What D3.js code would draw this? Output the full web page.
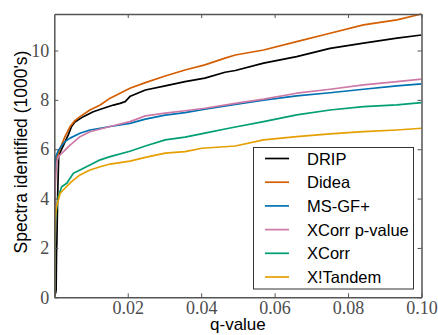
<!DOCTYPE html>
<html>
<head>
<meta charset="utf-8">
<script src="https://cdn.jsdelivr.net/npm/d3@7"></script>
<style>
  html, body { margin: 0; padding: 0; background: #fff; }
  svg { display: block; }
</style>
</head>
<body>
<svg id="chart" width="438" height="335"></svg>
<script>
// ---- data (q-value, spectra identified in 1000's) ----
const seriesNames = ["DRIP", "Didea", "MS-GF+", "XCorr p-value", "XCorr", "X!Tandem"];
const seriesColors = ["#000000", "#D55E00", "#0072B2", "#CC79A7", "#009E73", "#E69F00"];

const dripQ = [0, 0.0004, 0.0005, 0.0006, 0.0007, 0.0009, 0.0012, 0.0023, 0.0038, 0.0047, 0.0056, 0.0079, 0.0106, 0.0134, 0.0161, 0.0179, 0.0193, 0.0207, 0.0248, 0.0302, 0.0356, 0.041, 0.0465, 0.0493, 0.057, 0.066, 0.0751, 0.0842, 0.0933, 0.1];
const dripY = [0, 0.2, 0.3, 1.8, 2.2, 4.0, 5.75, 6.1, 6.58, 6.92, 7.1, 7.32, 7.52, 7.66, 7.79, 7.86, 7.93, 8.15, 8.40, 8.57, 8.74, 8.88, 9.12, 9.19, 9.49, 9.75, 10.09, 10.30, 10.5, 10.63];

const dideaQ = [0, 0.0003, 0.0008, 0.0016, 0.0029, 0.0043, 0.0056, 0.007, 0.0097, 0.0125, 0.0152, 0.0179, 0.0206, 0.0248, 0.0302, 0.0356, 0.041, 0.0465, 0.0493, 0.057, 0.066, 0.0751, 0.0842, 0.0933, 0.1];
const dideaY = [0, 5.2, 5.7, 6.04, 6.51, 6.92, 7.16, 7.32, 7.59, 7.79, 8.07, 8.27, 8.47, 8.70, 8.97, 9.21, 9.42, 9.69, 9.82, 10.02, 10.36, 10.7, 11.04, 11.24, 11.48];

const msgfQ = [0, 0.0001, 0.0004, 0.0011, 0.0018, 0.0029, 0.0043, 0.007, 0.0097, 0.0125, 0.0152, 0.0206, 0.0248, 0.0302, 0.0356, 0.041, 0.0493, 0.057, 0.066, 0.0751, 0.0842, 0.0933, 0.1];
const msgfY = [0, 5.0, 5.7, 5.95, 6.1, 6.31, 6.45, 6.65, 6.78, 6.85, 6.92, 7.05, 7.22, 7.38, 7.48, 7.62, 7.82, 7.99, 8.16, 8.29, 8.43, 8.57, 8.65];

const xcorrPQ = [0, 0.0001, 0.0003, 0.0006, 0.0011, 0.0025, 0.0043, 0.007, 0.0097, 0.0152, 0.0206, 0.0248, 0.0302, 0.0356, 0.041, 0.0493, 0.057, 0.066, 0.0751, 0.0842, 0.0933, 0.1];
const xcorrPY = [0, 3.8, 4.75, 5.4, 5.70, 5.9, 6.17, 6.51, 6.71, 6.92, 7.12, 7.35, 7.46, 7.56, 7.66, 7.86, 8.03, 8.27, 8.43, 8.61, 8.74, 8.84];

const xcorrQ = [0, 0.0002, 0.0005, 0.0011, 0.002, 0.0034, 0.0052, 0.007, 0.0097, 0.0125, 0.0152, 0.0206, 0.0248, 0.0302, 0.0356, 0.041, 0.0465, 0.0493, 0.057, 0.066, 0.0751, 0.0842, 0.0933, 0.1];
const xcorrY = [0, 3.0, 3.47, 4.08, 4.48, 4.62, 5.03, 5.16, 5.36, 5.57, 5.70, 5.92, 6.13, 6.38, 6.49, 6.65, 6.82, 6.90, 7.12, 7.39, 7.59, 7.73, 7.80, 7.89];

const tandemQ = [0, 0.0001, 0.0002, 0.0006, 0.0016, 0.0029, 0.0047, 0.007, 0.0097, 0.0125, 0.0152, 0.0206, 0.0248, 0.0302, 0.0356, 0.0402, 0.0493, 0.057, 0.066, 0.0751, 0.0842, 0.0933, 0.1];
const tandemY = [0, 2.5, 3.13, 3.67, 4.22, 4.42, 4.69, 4.96, 5.16, 5.29, 5.40, 5.52, 5.67, 5.84, 5.90, 6.04, 6.13, 6.38, 6.51, 6.62, 6.71, 6.78, 6.85];

const xTickValues = [0.02, 0.04, 0.06, 0.08, 0.10];
const xTickLabels = ["0.02", "0.04", "0.06", "0.08", "0.10"];
const yTickValues = [0, 2, 4, 6, 8, 10];
const yTickLabels = ["0", "2", "4", "6", "8", "10"];

const seriesQ = [dripQ, dideaQ, msgfQ, xcorrPQ, xcorrQ, tandemQ];
const seriesY = [dripY, dideaY, msgfY, xcorrPY, xcorrY, tandemY];

// ---- layout ----
const svg = d3.select("#chart");
const L = 54.3, R = 421.5, T = 14, B = 297.3;

const x = d3.scaleLinear().domain([0, 0.1]).range([L, R]);
const y = d3.scaleLinear().domain([0, 11.48]).range([B, T]);

svg.append("defs").append("clipPath").attr("id", "plotclip")
  .append("rect").attr("x", L).attr("y", T - 1).attr("width", R - L).attr("height", B - T + 1);

const axisColor = "#555";
const tickFont = "'Liberation Serif', 'DejaVu Serif', serif";

// lines
const line = d3.line().x(d => x(d[0])).y(d => y(d[1]));
const plot = svg.append("g").attr("clip-path", "url(#plotclip)");
seriesNames.forEach((name, i) => {
  const pts = seriesQ[i].map((q, j) => [q, seriesY[i][j]]);
  plot.append("path")
    .datum(pts)
    .attr("fill", "none")
    .attr("stroke", seriesColors[i])
    .attr("stroke-width", 1.7)
    .attr("stroke-linejoin", "round")
    .attr("d", line);
});

// axes
function styleAxis(g) {
  g.select(".domain").attr("stroke", axisColor).attr("stroke-width", 1.5);
  g.selectAll(".tick line").attr("stroke", axisColor).attr("stroke-width", 1);
  g.selectAll(".tick text").attr("fill", "#4d4d4d").attr("font-family", tickFont).attr("font-size", 18);
}

svg.append("g").attr("transform", `translate(0,${B})`)
  .call(d3.axisBottom(x).tickValues(xTickValues).tickFormat((d, i) => xTickLabels[i])
    .tickSizeInner(-4).tickSizeOuter(0).tickPadding(4))
  .call(styleAxis);

svg.append("g").attr("transform", `translate(0,${T})`)
  .call(d3.axisTop(x).tickValues(xTickValues).tickFormat("")
    .tickSizeInner(-4).tickSizeOuter(0))
  .call(styleAxis);

svg.append("g").attr("transform", `translate(${L},0)`)
  .call(d3.axisLeft(y).tickValues(yTickValues).tickFormat((d, i) => yTickLabels[i])
    .tickSizeInner(-4).tickSizeOuter(0).tickPadding(5))
  .call(styleAxis);

svg.append("g").attr("transform", `translate(${R},0)`)
  .call(d3.axisRight(y).tickValues(yTickValues).tickFormat("")
    .tickSizeInner(-4).tickSizeOuter(0))
  .call(styleAxis);

svg.selectAll(".domain").attr("fill", "none");

// axis labels
const labelFont = "'Liberation Sans', Arial, sans-serif";
svg.append("text")
  .attr("x", (L + R) / 2).attr("y", 330)
  .attr("text-anchor", "middle")
  .attr("font-family", labelFont).attr("font-size", 17)
  .attr("fill", "#000")
  .text("q-value");

svg.append("text")
  .attr("transform", `translate(26.5,152) rotate(-90)`)
  .attr("text-anchor", "middle")
  .attr("font-family", labelFont).attr("font-size", 17.5)
  .attr("fill", "#000")
  .text("Spectra identified (1000's)");

// legend
const lg = svg.append("g");
lg.append("rect")
  .attr("x", 253.5).attr("y", 147.5).attr("width", 160).attr("height", 141.5)
  .attr("fill", "#fff").attr("stroke", "#333").attr("stroke-width", 1);
seriesNames.forEach((name, i) => {
  const cy = 158.5 + i * 23.7;
  lg.append("line")
    .attr("x1", 265).attr("x2", 289).attr("y1", cy).attr("y2", cy)
    .attr("stroke", seriesColors[i]).attr("stroke-width", 1.7);
  lg.append("text")
    .attr("x", 307).attr("y", cy + 6)
    .attr("font-family", labelFont).attr("font-size", 16.5)
    .attr("fill", "#000")
    .text(name);
});
</script>
</body>
</html>
